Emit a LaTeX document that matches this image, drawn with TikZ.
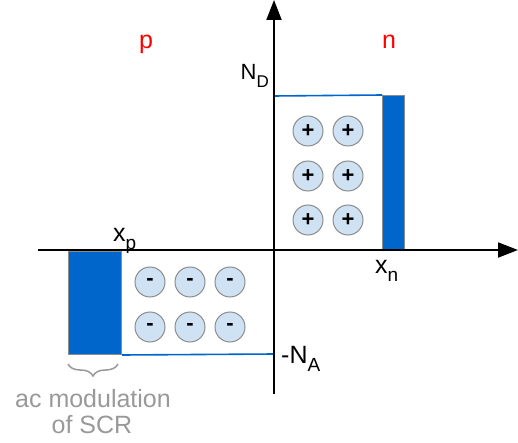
\documentclass[tikz,border=0pt]{standalone}
\usepackage{fontspec}
\setmainfont{Liberation Sans}
\usetikzlibrary{arrows.meta,decorations.pathreplacing}
\definecolor{myblue}{HTML}{0066CC}
\definecolor{circfill}{HTML}{CFE2F3}
\definecolor{bordergray}{HTML}{8C8C8C}
\definecolor{labelgray}{HTML}{999999}
\newcommand{\lblsub}[3]{#1\raisebox{-0.32em}{\fontsize{#3}{#3}\selectfont #2}}
\begin{document}
\begin{tikzpicture}[x=1pt,y=-1pt,
  axis/.style={line width=2pt,-{Triangle[length=20pt,width=15pt]}},
  bluebar/.style={draw=bordergray,fill=myblue,line width=1pt,inner sep=0pt},
  blueline/.style={draw=myblue,line width=1.6pt},
  ion/.style={circle,draw=bordergray,fill=circfill,line width=1pt,minimum size=30pt,inner sep=0pt,font=\bfseries\fontsize{22}{22}\selectfont},
  lbl/.style={inner sep=0pt,font=\fontsize{25}{25}\selectfont},
  region/.style={inner sep=0pt,text=red,font=\fontsize{25}{25}\selectfont,anchor=base},
  note/.style={inner sep=0pt,text=labelgray,anchor=base,font=\fontsize{25}{25}\selectfont},
  bracestyle/.style={draw=labelgray,line width=1.5pt,decorate,decoration={brace,amplitude=12pt}}
]
\useasboundingbox (0,0) rectangle (518,443);

% axes
\coordinate (hstart) at (38,250);
\coordinate (hend) at (518,250);
\coordinate (vstart) at (274,394);
\coordinate (vend) at (274,0);

% blue bars
\node[bluebar,anchor=south west,minimum width=22pt,minimum height=154pt] (nbar) at (382,250) {};
\node[bluebar,anchor=north west,minimum width=53pt,minimum height=103pt] (pbar) at (68,251) {};

% level lines
\coordinate (ndlevel) at (274,96);
\coordinate (nalevel) at (274,354);
\draw[blueline] (ndlevel) -- (nbar.north west);
\draw[blueline] (pbar.south east) -- (nalevel);

\draw[axis] (hstart) -- (hend);
\draw[axis] (vstart) -- (vend);

% donor ions
\foreach \r/\y in {1/131,2/176,3/220}{
  \node[ion] (d\r a) at (308,\y) {+};
  \node[ion] (d\r b) at (348,\y) {+};
}
% acceptor ions
\foreach \r/\y in {1/282,2/327}{
  \node[ion] (a\r a) at (150,\y) {-};
  \node[ion] (a\r b) at (190,\y) {-};
  \node[ion] (a\r c) at (230,\y) {-};
}

% labels
\node[region] (plbl) at (146,49) {p};
\node[region] (nlbl) at (389,49) {n};
\node[lbl,anchor=base east,font=\fontsize{22}{22}\selectfont] (ND) at (269,80) {\lblsub{N}{D}{17}};
\node[lbl,anchor=base west] (xp) at (113,241) {\lblsub{x}{p}{19}};
\node[lbl,anchor=base west] (xn) at (375,273) {\lblsub{x}{n}{19}};
\node[lbl,anchor=base west] (NA) at (281,363) {\lblsub{-N}{A}{19}};

% brace and note
\coordinate (br1) at (118,364);
\coordinate (br2) at (68,364);
\draw[bracestyle] (br1) -- (br2);
\node[note] (note1) at (93,407) {ac modulation};
\node[note] (note2) at (92,433) {of SCR};
\end{tikzpicture}
\end{document}
